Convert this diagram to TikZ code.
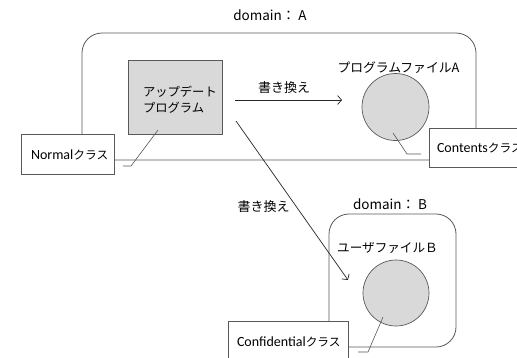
\documentclass[tikz,border=0pt]{standalone}
\usepackage{fontspec}
\setmainfont{Noto Sans CJK JP}
\newfontfamily\latf{Carlito}
\usetikzlibrary{arrows.meta}
\definecolor{edge}{HTML}{595959}
\definecolor{fillg}{HTML}{D9D9D9}
\begin{document}
\begin{tikzpicture}[x=1pt,y=-1pt,
  every node/.style={inner sep=0pt, outer sep=0pt},
  dom/.style={draw=edge, line width=0.8pt, rounded corners=20pt, rectangle},
  clsbox/.style={draw=edge, line width=0.8pt, fill=white, rectangle},
  updbox/.style={draw=edge, line width=0.8pt, fill=fillg, rectangle},
  filecirc/.style={draw=edge, line width=0.7pt, fill=fillg, circle},
  jp/.style={font=\fontsize{12.3}{15.5}\selectfont},
  lbl/.style={font=\fontsize{13}{15}\selectfont},
  cls/.style={font=\fontsize{11.7}{14}\selectfont},
  arr/.style={draw=black!85, line width=0.7pt, -{Straight Barb[length=4pt,width=9pt]}},
  callout/.style={draw=edge, line width=0.6pt}
]
\useasboundingbox (0,0) rectangle (517,357);
\clip (0,0) rectangle (517,357);
\fill[white] (0,0) rectangle (517,357);

% domains
\node[dom, minimum width=394pt, minimum height=127pt] (domA) at (279,96.5) {};
\node[dom, minimum width=127pt, minimum height=133pt] (domB) at (392.5,280.5) {};
\node[font=\fontsize{13.5}{15}\selectfont] (domAlbl) at (270,15) {domain： A};
\node[font=\fontsize{13.5}{15}\selectfont] (domBlbl) at (390,204) {domain： B};

% update program
\node[updbox, minimum width=94pt, minimum height=74pt] (upd) at (175,97) {};
\node[jp, align=left, anchor=west] (updtxt) at (143,99.5) {アップデート\\プログラム};

% files
\node[filecirc, minimum size=67pt] (circA) at (395.5,107) {};
\node[font=\fontsize{12.8}{14}\selectfont] (fileA) at (398.5,68) {プログラムファイルA};
\node[filecirc, minimum size=66pt] (circB) at (396,293) {};
\node[font=\fontsize{12.6}{14}\selectfont] (fileB) at (387.5,248) {ユーザファイルＢ};

% class boxes
\node[clsbox, minimum width=93pt, minimum height=40pt] (normal) at (67.5,154) {};
\node[cls, anchor=west] (normaltxt) at (31,155) {{\latf\fontsize{14}{14}\selectfont Normal}クラス};
\node[clsbox, minimum width=101pt, minimum height=39pt] (contents) at (479.5,147.5) {};
\node[cls, anchor=west] (contentstxt) at (437,148) {{\latf\fontsize{14}{14}\selectfont Contents}クラス};
\node[clsbox, minimum width=120pt, minimum height=49pt] (conf) at (288,345.5) {};
\node[cls, anchor=west] (conftxt) at (237,342) {{\latf\fontsize{14}{14}\selectfont Confidential}クラス};

% arrows
\coordinate (a1s) at (235,100);
\coordinate (a1e) at (342,100);
\coordinate (a2s) at (236,121);
\coordinate (a2e) at (348,280);
\draw[arr] (a1s) -- (a1e);
\draw[arr] (a2s) -- (a2e);
\node[lbl] (lbl1) at (284,88) {書き換え};
\node[lbl] (lbl2) at (263.5,207) {書き換え};

% callouts
\coordinate (c1a) at (123,166);
\coordinate (c1b) at (131,166);
\coordinate (c1c) at (158,130);
\draw[callout] (c1a) -- (c1b) -- (c1c);
\coordinate (c2a) at (421,154);
\coordinate (c2b) at (407,154);
\coordinate (c2c) at (393,133);
\draw[callout] (c2a) -- (c2b) -- (c2c);
\coordinate (c3a) at (358,352);
\coordinate (c3b) at (368,352);
\coordinate (c3c) at (383,317);
\draw[callout] (c3a) -- (c3b) -- (c3c);
\end{tikzpicture}
\end{document}
